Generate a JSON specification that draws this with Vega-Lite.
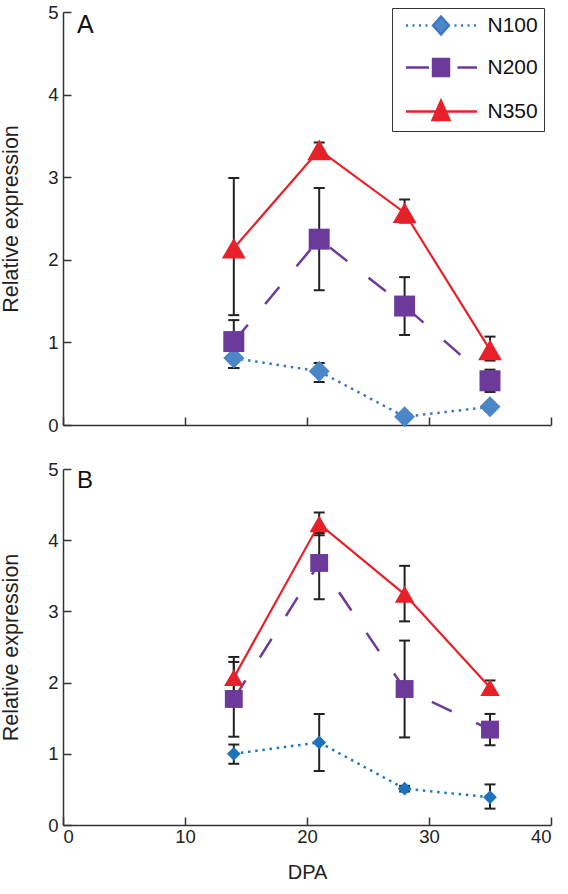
{
  "$schema": "https://vega.github.io/schema/vega-lite/v6.json",
  "background": "white",
  "padding": {"left": 0, "top": 3, "right": 5, "bottom": 5},
  "config": {
    "font": "Liberation Sans",
    "view": {"stroke": null},
    "axis": {
      "grid": false,
      "domainColor": "#333",
      "domainWidth": 1.5,
      "tickColor": "#333",
      "tickWidth": 1.5,
      "labelFont": "Liberation Sans",
      "labelFontSize": 18.5,
      "labelColor": "#222",
      "titleFont": "Liberation Sans",
      "titleFontWeight": "normal",
      "titleColor": "#222"
    }
  },
  "datasets": {
    "d": [
      {"panel": "A", "series": "N100", "dpa": 14, "mean": 0.81, "lo": 0.69, "hi": 0.93},
      {"panel": "A", "series": "N100", "dpa": 21, "mean": 0.65, "lo": 0.52, "hi": 0.75},
      {"panel": "A", "series": "N100", "dpa": 28, "mean": 0.10, "lo": 0.07, "hi": 0.13},
      {"panel": "A", "series": "N100", "dpa": 35, "mean": 0.22, "lo": 0.17, "hi": 0.27},
      {"panel": "A", "series": "N200", "dpa": 14, "mean": 1.01, "lo": 0.69, "hi": 1.27},
      {"panel": "A", "series": "N200", "dpa": 21, "mean": 2.25, "lo": 1.63, "hi": 2.87},
      {"panel": "A", "series": "N200", "dpa": 28, "mean": 1.44, "lo": 1.09, "hi": 1.79},
      {"panel": "A", "series": "N200", "dpa": 35, "mean": 0.535, "lo": 0.40, "hi": 0.67},
      {"panel": "A", "series": "N350", "dpa": 14, "mean": 2.14, "lo": 1.33, "hi": 2.99},
      {"panel": "A", "series": "N350", "dpa": 21, "mean": 3.33, "lo": 3.25, "hi": 3.42},
      {"panel": "A", "series": "N350", "dpa": 28, "mean": 2.57, "lo": 2.45, "hi": 2.73},
      {"panel": "A", "series": "N350", "dpa": 35, "mean": 0.91, "lo": 0.78, "hi": 1.07},
      {"panel": "B", "series": "N100", "dpa": 14, "mean": 1.00, "lo": 0.86, "hi": 1.13},
      {"panel": "B", "series": "N100", "dpa": 21, "mean": 1.16, "lo": 0.76, "hi": 1.56},
      {"panel": "B", "series": "N100", "dpa": 28, "mean": 0.51, "lo": 0.47, "hi": 0.55},
      {"panel": "B", "series": "N100", "dpa": 35, "mean": 0.39, "lo": 0.23, "hi": 0.57},
      {"panel": "B", "series": "N200", "dpa": 14, "mean": 1.77, "lo": 1.24, "hi": 2.29},
      {"panel": "B", "series": "N200", "dpa": 21, "mean": 3.68, "lo": 3.17, "hi": 4.10},
      {"panel": "B", "series": "N200", "dpa": 28, "mean": 1.91, "lo": 1.23, "hi": 2.59},
      {"panel": "B", "series": "N200", "dpa": 35, "mean": 1.34, "lo": 1.12, "hi": 1.56},
      {"panel": "B", "series": "N350", "dpa": 14, "mean": 2.07, "lo": 1.80, "hi": 2.36},
      {"panel": "B", "series": "N350", "dpa": 21, "mean": 4.23, "lo": 4.07, "hi": 4.39},
      {"panel": "B", "series": "N350", "dpa": 28, "mean": 3.24, "lo": 2.86, "hi": 3.64},
      {"panel": "B", "series": "N350", "dpa": 35, "mean": 1.93, "lo": 1.83, "hi": 2.03}
    ]
  },
  "bounds": "flush",
  "spacing": 44,
  "resolve": {
    "scale": {"x": "independent", "y": "independent", "fill": "independent", "stroke": "independent", "shape": "independent"},
    "legend": {"fill": "independent", "stroke": "independent", "shape": "independent"}
  },
  "vconcat": [
    {
      "width": 488,
      "height": 413,
      "title": {"text": "A", "anchor": "start", "frame": "group", "baseline": "top", "offset": -34.5, "dx": 14, "fontSize": 25, "fontWeight": "normal", "font": "Liberation Sans", "color": "#111"},
      "data": {"name": "d"},
      "transform": [{"filter": "datum.panel === 'A'"}],
      "encoding": {
        "x": {"field": "dpa", "type": "quantitative", "scale": {"domain": [0, 40], "nice": false}, "axis": {"values": [0, 10, 20, 30, 40], "labels": false, "title": null, "tickSize": -8}}
      },
      "layer": [
        {"mark": {"type": "rule", "color": "#222", "strokeWidth": 2}, "encoding": {"y": {"field": "lo", "type": "quantitative", "title": "Relative expression", "scale": {"domain": [0, 5], "nice": false}, "axis": {"values": [0, 1, 2, 3, 4, 5], "format": "d", "tickSize": -8, "labelPadding": 13, "titlePadding": 25, "titleFontSize": 21.5}}, "y2": {"field": "hi"}}},
        {"mark": {"type": "tick", "orient": "horizontal", "color": "#222", "thickness": 2, "size": 11, "opacity": 1}, "encoding": {"y": {"field": "lo", "type": "quantitative", "title": "Relative expression"}}},
        {"mark": {"type": "tick", "orient": "horizontal", "color": "#222", "thickness": 2, "size": 11, "opacity": 1}, "encoding": {"y": {"field": "hi", "type": "quantitative", "title": "Relative expression"}}},
        {"transform": [{"filter": "datum.series === 'N100'"}], "mark": {"type": "line", "color": "#3b78c2", "strokeWidth": 2.5, "strokeDash": [2.5, 4.7]}, "encoding": {"y": {"field": "mean", "type": "quantitative", "title": "Relative expression"}}},
        {"transform": [{"filter": "datum.series === 'N200'"}], "mark": {"type": "line", "color": "#6b3a9b", "strokeWidth": 2.5, "strokeDash": [22, 27]}, "encoding": {"y": {"field": "mean", "type": "quantitative", "title": "Relative expression"}}},
        {"transform": [{"filter": "datum.series === 'N350'"}], "mark": {"type": "line", "color": "#e8202a", "strokeWidth": 2.2}, "encoding": {"y": {"field": "mean", "type": "quantitative", "title": "Relative expression"}}},
        {"transform": [{"filter": "datum.series === 'N100'"}], "mark": {"type": "point", "shape": "diamond", "filled": true, "size": 440, "opacity": 1, "color": "#4a86c8"}, "encoding": {"y": {"field": "mean", "type": "quantitative", "title": "Relative expression"}}},
        {"transform": [{"filter": "datum.series === 'N200'"}], "mark": {"type": "point", "shape": "square", "filled": true, "size": 440, "opacity": 1, "color": "#6b3a9b"}, "encoding": {"y": {"field": "mean", "type": "quantitative", "title": "Relative expression"}}},
        {"transform": [{"filter": "datum.series === 'N350'"}], "mark": {"type": "point", "shape": "triangle-up", "filled": true, "size": 570, "opacity": 1, "color": "#e8202a"}, "encoding": {"y": {"field": "mean", "type": "quantitative", "title": "Relative expression"}}},
        {
          "transform": [{"filter": "datum.dpa < 0"}],
          "mark": {"type": "point", "filled": true, "opacity": 1},
          "encoding": {
            "y": {"field": "mean", "type": "quantitative", "title": "Relative expression"},
            "fill": {"field": "series", "type": "nominal", "scale": {"domain": ["N100", "N200", "N350"], "range": ["#4a86c8", "#6b3a9b", "#e8202a"]},
              "legend": {
                "orient": "none", "legendX": 329, "legendY": -4, "title": null,
                "strokeColor": "#333", "fillColor": "white",
                "padding": 6, "symbolSize": 400, "symbolStrokeWidth": 2.4,
                "symbolOffset": 31.5, "labelOffset": 35, "rowPadding": 14,
                "labelFont": "Liberation Sans", "labelFontSize": 21, "labelColor": "#111",
                "labelExpr": "datum.label + '\u00a0\u00a0'",
                "encode": {"legend": {"update": {"strokeWidth": {"value": 1.5}}}}
              }},
            "stroke": {"field": "series", "type": "nominal", "scale": {"domain": ["N100", "N200", "N350"], "range": ["#3b78c2", "#6b3a9b", "#e8202a"]}},
            "shape": {"field": "series", "type": "nominal", "scale": {"domain": ["N100", "N200", "N350"], "range": [
              "M-3.5,0L-3.3,0M-2.85,0L-2.65,0M-2.2,0L-2,0M-1.55,0L-1.35,0M1.35,0L1.55,0M2,0L2.2,0M2.65,0L2.85,0M3.3,0L3.5,0M-0.8,0L0,-0.9L0.8,0L0,0.9Z",
              "M-3.5,0L-1.2,0M1.65,0L3.6,0M-0.8,-0.85L0.8,-0.85L0.8,0.85L-0.8,0.85Z",
              "M-3.5,0L3.6,0M0,-1.08L0.85,0.85L-0.85,0.85Z"
            ]}}
          }
        }
      ]
    },
    {
      "width": 488,
      "height": 356,
      "title": {"text": "B", "anchor": "start", "frame": "group", "baseline": "top", "offset": -32.5, "dx": 14, "fontSize": 24, "fontWeight": "normal", "font": "Liberation Sans", "color": "#111"},
      "data": {"name": "d"},
      "transform": [{"filter": "datum.panel === 'B'"}],
      "encoding": {
        "x": {"field": "dpa", "type": "quantitative", "scale": {"domain": [0, 40], "nice": false}, "axis": {"values": [0, 10, 20, 30, 40], "format": "d", "title": "DPA", "tickSize": -8, "labelPadding": 10, "titlePadding": 17, "titleFontSize": 20}}
      },
      "layer": [
        {"mark": {"type": "rule", "color": "#222", "strokeWidth": 2}, "encoding": {"y": {"field": "lo", "type": "quantitative", "title": "Relative expression", "scale": {"domain": [0, 5], "nice": false}, "axis": {"values": [0, 1, 2, 3, 4, 5], "format": "d", "tickSize": -8, "labelPadding": 13, "titlePadding": 25, "titleFontSize": 21.5}}, "y2": {"field": "hi"}}},
        {"mark": {"type": "tick", "orient": "horizontal", "color": "#222", "thickness": 2, "size": 11, "opacity": 1}, "encoding": {"y": {"field": "lo", "type": "quantitative", "title": "Relative expression"}}},
        {"mark": {"type": "tick", "orient": "horizontal", "color": "#222", "thickness": 2, "size": 11, "opacity": 1}, "encoding": {"y": {"field": "hi", "type": "quantitative", "title": "Relative expression"}}},
        {"transform": [{"filter": "datum.series === 'N100'"}], "mark": {"type": "line", "color": "#1e78c0", "strokeWidth": 2.5, "strokeDash": [2.5, 4.7]}, "encoding": {"y": {"field": "mean", "type": "quantitative", "title": "Relative expression"}}},
        {"transform": [{"filter": "datum.series === 'N200'"}], "mark": {"type": "line", "color": "#6b3a9b", "strokeWidth": 2.5, "strokeDash": [22, 27]}, "encoding": {"y": {"field": "mean", "type": "quantitative", "title": "Relative expression"}}},
        {"transform": [{"filter": "datum.series === 'N350'"}], "mark": {"type": "line", "color": "#e8202a", "strokeWidth": 2.2}, "encoding": {"y": {"field": "mean", "type": "quantitative", "title": "Relative expression"}}},
        {"transform": [{"filter": "datum.series === 'N100'"}], "mark": {"type": "point", "shape": "diamond", "filled": true, "size": 190, "opacity": 1, "color": "#1b72bd"}, "encoding": {"y": {"field": "mean", "type": "quantitative", "title": "Relative expression"}}},
        {"transform": [{"filter": "datum.series === 'N200'"}], "mark": {"type": "point", "shape": "square", "filled": true, "size": 320, "opacity": 1, "color": "#6b3a9b"}, "encoding": {"y": {"field": "mean", "type": "quantitative", "title": "Relative expression"}}},
        {"transform": [{"filter": "datum.series === 'N350'"}], "mark": {"type": "point", "shape": "triangle-up", "filled": true, "size": 380, "opacity": 1, "color": "#e8202a"}, "encoding": {"y": {"field": "mean", "type": "quantitative", "title": "Relative expression"}}}
      ]
    }
  ]
}
